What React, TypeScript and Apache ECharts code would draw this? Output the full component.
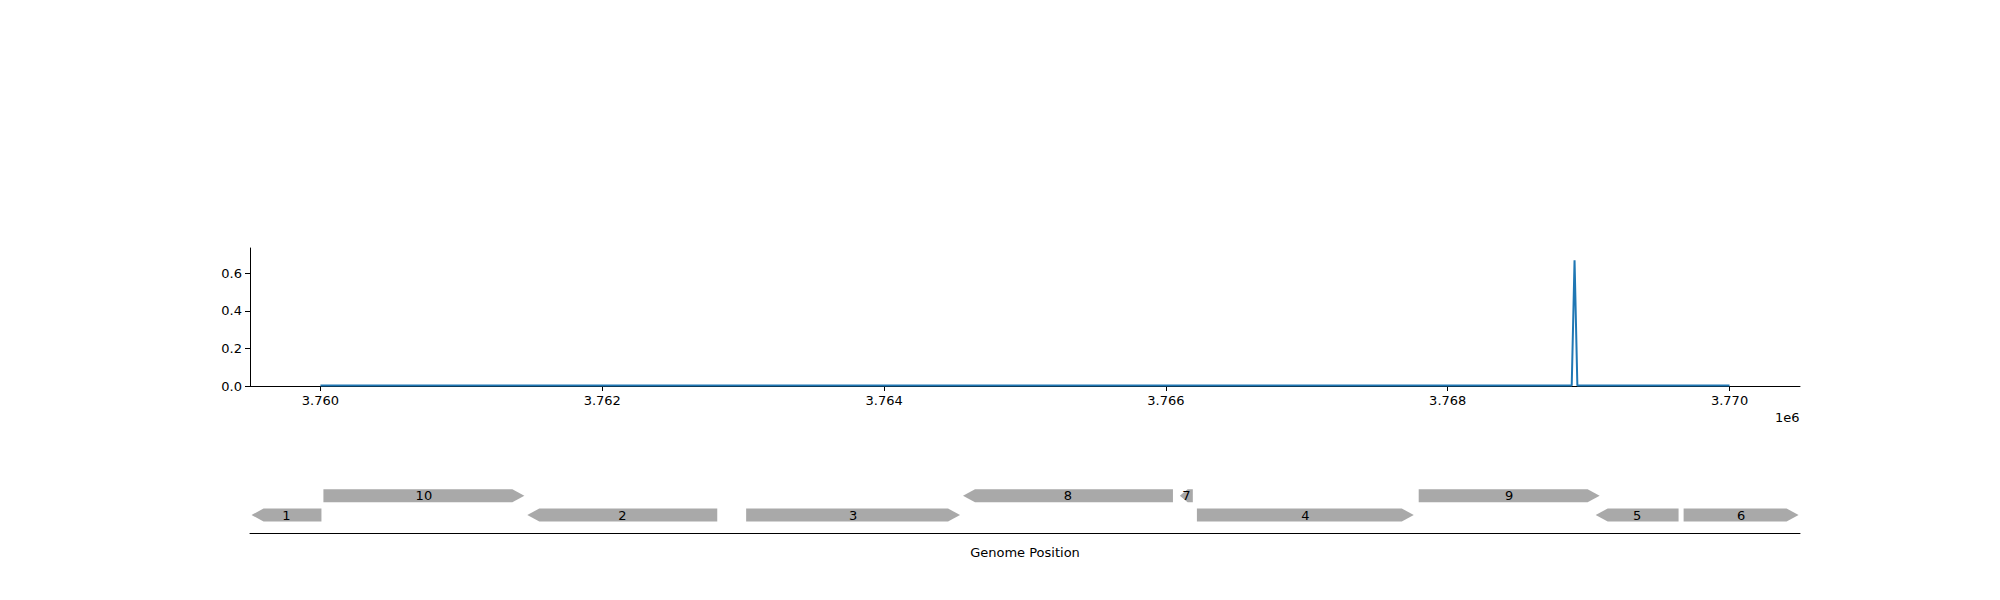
import React, { useEffect, useRef } from 'react';
import * as echarts from 'echarts';

// coverage track
const covPos = [3760000, 3768880, 3768900, 3768920, 3770000];
const covVal = [0.003, 0.003, 0.67, 0.003, 0.003];
const xTicks = [3760000, 3762000, 3764000, 3766000, 3768000, 3770000];

// gene annotation track
const geneNames = ['1', '10', '2', '3', '8', '7', '4', '9', '5', '6'];
const geneStarts = [3759511, 3760021, 3761468, 3763021, 3764560, 3766099, 3766220, 3767794, 3769050, 3769674];
const geneEnds = [3760007, 3761447, 3762816, 3764539, 3766050, 3766191, 3767759, 3769078, 3769638, 3770490];
const geneStrands = [-1, 1, -1, 1, -1, -1, 1, 1, -1, 1];
const geneRows = [0, 1, 0, 0, 1, 1, 0, 1, 0, 0];

const FONT = 'DejaVu Sans';

const App: React.FC = () => {
  const chartRef = useRef<HTMLDivElement>(null);

  useEffect(() => {
    if (!chartRef.current) return;
    const chart = echarts.init(chartRef.current, null, { renderer: 'svg' });

    const geneData = geneNames.map((n, i) => [geneStarts[i], geneEnds[i], geneRows[i] === 1 ? 3.1 : 1.5, geneStrands[i], n]);

    const option: echarts.EChartsOption = {
      animation: false,
      textStyle: { fontFamily: FONT },
      grid: [
        { left: 250, right: 200, top: 248, height: 138 },
        { left: 250, right: 200, top: 485, height: 48 }
      ],
      xAxis: [
        {
          type: 'value', gridIndex: 0, min: 3759500, max: 3770500,
          axisLine: { lineStyle: { color: '#000' } },
          axisTick: { customValues: xTicks, length: 5, lineStyle: { color: '#000' } },
          axisLabel: { customValues: xTicks, color: '#000', fontSize: 13, margin: 8, formatter: (v: number) => (v / 1e6).toFixed(3) },
          splitLine: { show: false }
        },
        {
          type: 'value', gridIndex: 1, min: 3759500, max: 3770500,
          axisLine: { lineStyle: { color: '#000' } },
          axisTick: { show: false }, axisLabel: { show: false }, splitLine: { show: false },
          name: 'Genome Position', nameLocation: 'middle', nameGap: 13,
          nameTextStyle: { color: '#000', fontSize: 13, fontFamily: FONT }
        }
      ],
      yAxis: [
        {
          type: 'value', gridIndex: 0, min: 0, max: 0.735, interval: 0.2,
          axisLine: { show: true, lineStyle: { color: '#000' } },
          axisTick: { show: true, length: 5, lineStyle: { color: '#000' } },
          axisLabel: { color: '#000', fontSize: 13, showMaxLabel: false, formatter: (v: number) => v.toFixed(1) },
          splitLine: { show: false }
        },
        { type: 'value', gridIndex: 1, min: 0, max: 4, show: false }
      ],
      graphic: [
        { type: 'text', left: 1775, top: 411, style: { text: '1e6', fontSize: 13, fill: '#000', fontFamily: FONT } }
      ],
      series: [
        {
          type: 'line', xAxisIndex: 0, yAxisIndex: 0, data: covPos.map((p, i) => [p, covVal[i]]),
          showSymbol: false, lineStyle: { color: '#1f77b4', width: 2 }, itemStyle: { color: '#1f77b4' }
        },
        {
          type: 'custom', xAxisIndex: 1, yAxisIndex: 1, data: geneData,
          renderItem: (params: any, api: any) => {
            const s = api.coord([api.value(0), api.value(2)]);
            const e = api.coord([api.value(1), api.value(2)]);
            const strand = api.value(3);
            const h = 6.5;
            const y = s[1];
            const x0 = s[0], x1 = e[0];
            const head = Math.min(12, (x1 - x0) * 0.6);
            const pts = strand > 0
              ? [[x0, y - h], [x1 - head, y - h], [x1, y], [x1 - head, y + h], [x0, y + h]]
              : [[x1, y - h], [x0 + head, y - h], [x0, y], [x0 + head, y + h], [x1, y + h]];
            return {
              type: 'group',
              children: [
                { type: 'polygon', shape: { points: pts }, style: { fill: '#a9a9a9' } },
                {
                  type: 'text', x: (x0 + x1) / 2, y: y,
                  style: { text: String(api.value(4)), fill: '#000', fontSize: 13, fontFamily: FONT, align: 'center', verticalAlign: 'middle' }
                }
              ]
            };
          }
        }
      ]
    };

    chart.setOption(option);
    return () => chart.dispose();
  }, []);

  return <div ref={chartRef} style={{ width: 2000, height: 600, margin: -8 }} />;
};

export default App;
